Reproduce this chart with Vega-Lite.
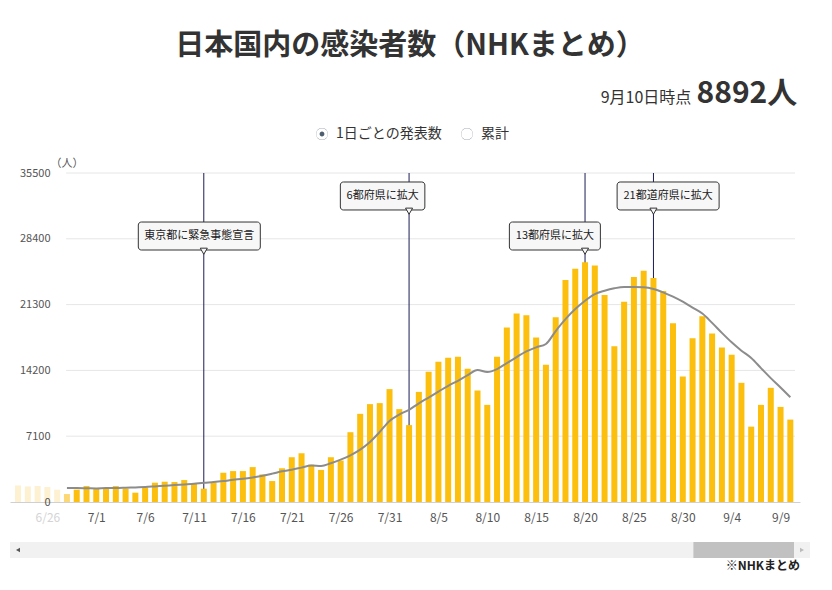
{
  "$schema": "https://vega.github.io/schema/vega-lite/v6.json",
  "background": "white",
  "padding": {"left": 10, "top": 32, "right": 12, "bottom": 0},
  "bounds": "flush",
  "spacing": 40,
  "title": {
    "text": "日本国内の感染者数（NHKまとめ）",
    "fontSize": 29,
    "fontWeight": "bold",
    "color": "#333333",
    "anchor": "middle",
    "offset": 18
  },
  "datasets": {
    "daily": [
      {"date": "2021-06-23", "cases": 1790, "avg": null},
      {"date": "2021-06-24", "cases": 1680, "avg": null},
      {"date": "2021-06-25", "cases": 1730, "avg": null},
      {"date": "2021-06-26", "cases": 1620, "avg": null},
      {"date": "2021-06-27", "cases": 1330, "avg": null},
      {"date": "2021-06-28", "cases": 860, "avg": 1506},
      {"date": "2021-06-29", "cases": 1330, "avg": 1506},
      {"date": "2021-06-30", "cases": 1720, "avg": 1490},
      {"date": "2021-07-01", "cases": 1470, "avg": 1470},
      {"date": "2021-07-02", "cases": 1470, "avg": 1506},
      {"date": "2021-07-03", "cases": 1720, "avg": 1506},
      {"date": "2021-07-04", "cases": 1434, "avg": 1540},
      {"date": "2021-07-05", "cases": 1004, "avg": 1578},
      {"date": "2021-07-06", "cases": 1578, "avg": 1614},
      {"date": "2021-07-07", "cases": 2080, "avg": 1685},
      {"date": "2021-07-08", "cases": 2187, "avg": 1757},
      {"date": "2021-07-09", "cases": 2152, "avg": 1829},
      {"date": "2021-07-10", "cases": 2367, "avg": 1900},
      {"date": "2021-07-11", "cases": 1972, "avg": 1972},
      {"date": "2021-07-12", "cases": 1434, "avg": 2080},
      {"date": "2021-07-13", "cases": 2116, "avg": 2152},
      {"date": "2021-07-14", "cases": 3156, "avg": 2260},
      {"date": "2021-07-15", "cases": 3335, "avg": 2400},
      {"date": "2021-07-16", "cases": 3335, "avg": 2510},
      {"date": "2021-07-17", "cases": 3765, "avg": 2654},
      {"date": "2021-07-18", "cases": 2976, "avg": 2833},
      {"date": "2021-07-19", "cases": 2260, "avg": 3060},
      {"date": "2021-07-20", "cases": 3640, "avg": 3310},
      {"date": "2021-07-21", "cases": 4830, "avg": 3490},
      {"date": "2021-07-22", "cases": 5260, "avg": 3710},
      {"date": "2021-07-23", "cases": 4036, "avg": 3930},
      {"date": "2021-07-24", "cases": 3460, "avg": 3890},
      {"date": "2021-07-25", "cases": 4830, "avg": 4180},
      {"date": "2021-07-26", "cases": 4470, "avg": 4570},
      {"date": "2021-07-27", "cases": 7530, "avg": 5040},
      {"date": "2021-07-28", "cases": 9515, "avg": 5650},
      {"date": "2021-07-29", "cases": 10560, "avg": 6480},
      {"date": "2021-07-30", "cases": 10670, "avg": 7560},
      {"date": "2021-07-31", "cases": 12180, "avg": 8750},
      {"date": "2021-08-01", "cases": 10020, "avg": 9440},
      {"date": "2021-08-02", "cases": 8300, "avg": 9950},
      {"date": "2021-08-03", "cases": 11880, "avg": 10650},
      {"date": "2021-08-04", "cases": 14050, "avg": 11270},
      {"date": "2021-08-05", "cases": 15140, "avg": 11920},
      {"date": "2021-08-06", "cases": 15570, "avg": 12540},
      {"date": "2021-08-07", "cases": 15680, "avg": 13080},
      {"date": "2021-08-08", "cases": 14380, "avg": 13690},
      {"date": "2021-08-09", "cases": 12030, "avg": 14240},
      {"date": "2021-08-10", "cases": 10480, "avg": 14020},
      {"date": "2021-08-11", "cases": 15680, "avg": 14340},
      {"date": "2021-08-12", "cases": 18820, "avg": 14990},
      {"date": "2021-08-13", "cases": 20340, "avg": 15640},
      {"date": "2021-08-14", "cases": 20160, "avg": 16260},
      {"date": "2021-08-15", "cases": 17740, "avg": 16690},
      {"date": "2021-08-16", "cases": 14810, "avg": 17050},
      {"date": "2021-08-17", "cases": 19930, "avg": 18450},
      {"date": "2021-08-18", "cases": 23960, "avg": 19730},
      {"date": "2021-08-19", "cases": 25160, "avg": 20820},
      {"date": "2021-08-20", "cases": 25880, "avg": 21720},
      {"date": "2021-08-21", "cases": 25520, "avg": 22440},
      {"date": "2021-08-22", "cases": 22340, "avg": 22800},
      {"date": "2021-08-23", "cases": 16800, "avg": 23060},
      {"date": "2021-08-24", "cases": 21610, "avg": 23200},
      {"date": "2021-08-25", "cases": 24290, "avg": 23200},
      {"date": "2021-08-26", "cases": 24940, "avg": 23170},
      {"date": "2021-08-27", "cases": 24180, "avg": 22990},
      {"date": "2021-08-28", "cases": 22770, "avg": 22620},
      {"date": "2021-08-29", "cases": 19300, "avg": 22150},
      {"date": "2021-08-30", "cases": 13540, "avg": 21610},
      {"date": "2021-08-31", "cases": 17670, "avg": 20980},
      {"date": "2021-09-01", "cases": 20050, "avg": 20340},
      {"date": "2021-09-02", "cases": 18170, "avg": 19330},
      {"date": "2021-09-03", "cases": 16660, "avg": 18250},
      {"date": "2021-09-04", "cases": 15900, "avg": 17230},
      {"date": "2021-09-05", "cases": 12860, "avg": 16330},
      {"date": "2021-09-06", "cases": 8130, "avg": 15540},
      {"date": "2021-09-07", "cases": 10480, "avg": 14450},
      {"date": "2021-09-08", "cases": 12320, "avg": 13370},
      {"date": "2021-09-09", "cases": 10260, "avg": 12360},
      {"date": "2021-09-10", "cases": 8892, "avg": 11310}
    ],
    "events": [
      {"date": "2021-07-12", "label": "東京都に緊急事態宣言", "label_at": "2021-07-11T13:00:00Z"},
      {"date": "2021-08-02", "label": "6都府県に拡大", "label_at": "2021-07-30T07:00:00Z"},
      {"date": "2021-08-20", "label": "13都府県に拡大", "label_at": "2021-08-16T22:00:00Z"},
      {"date": "2021-08-27", "label": "21都道府県に拡大", "label_at": "2021-08-28T12:00:00Z"}
    ],
    "ticks": [
      {"v": 0}, {"v": 7100}, {"v": 14200}, {"v": 21300}, {"v": 28400}, {"v": 35500}
    ],
    "scroll": [
      {"part": "全期間", "start": "2020-01-16", "end": "2021-09-10"},
      {"part": "表示期間", "start": "2021-06-23", "end": "2021-09-10"}
    ]
  },
  "vconcat": [
    {
      "width": 790,
      "height": 329,
      "layer": [
        {
          "data": {"name": "ticks"},
          "transform": [{"filter": "datum.v > 0"}],
          "mark": {"type": "rule", "color": "#e6e6e6", "strokeWidth": 1},
          "encoding": {
            "x": {
              "datum": {"year": 2021, "month": 6, "date": 27, "hours": 22, "utc": true},
              "type": "temporal"
            },
            "x2": {"datum": {"year": 2021, "month": 9, "date": 10, "hours": 11, "minutes": 30, "utc": true}},
            "y": {"field": "v", "type": "quantitative"}
          }
        },
        {
          "data": {"name": "events"},
          "mark": {"type": "rule", "color": "#1b1b57", "strokeWidth": 1},
          "encoding": {
            "x": {"field": "date", "type": "temporal"},
            "y": {"datum": 35500},
            "y2": {"datum": 0}
          }
        },
        {
          "data": {"name": "daily"},
          "mark": {"type": "bar", "width": 6, "clip": true},
          "encoding": {
            "x": {
              "field": "date",
              "type": "temporal",
              "scale": {
                "type": "utc",
                "nice": false,
                "domain": [
                  {"year": 2021, "month": 6, "date": 22, "hours": 16, "minutes": 30, "utc": true},
                  {"year": 2021, "month": 9, "date": 10, "hours": 11, "minutes": 30, "utc": true}
                ]
              },
              "axis": {
                "values": [
                  {"year": 2021, "month": 6, "date": 26, "utc": true},
                  {"year": 2021, "month": 7, "date": 1, "utc": true},
                  {"year": 2021, "month": 7, "date": 6, "utc": true},
                  {"year": 2021, "month": 7, "date": 11, "utc": true},
                  {"year": 2021, "month": 7, "date": 16, "utc": true},
                  {"year": 2021, "month": 7, "date": 21, "utc": true},
                  {"year": 2021, "month": 7, "date": 26, "utc": true},
                  {"year": 2021, "month": 7, "date": 31, "utc": true},
                  {"year": 2021, "month": 8, "date": 5, "utc": true},
                  {"year": 2021, "month": 8, "date": 10, "utc": true},
                  {"year": 2021, "month": 8, "date": 15, "utc": true},
                  {"year": 2021, "month": 8, "date": 20, "utc": true},
                  {"year": 2021, "month": 8, "date": 25, "utc": true},
                  {"year": 2021, "month": 8, "date": 30, "utc": true},
                  {"year": 2021, "month": 9, "date": 4, "utc": true},
                  {"year": 2021, "month": 9, "date": 9, "utc": true}
                ],
                "labelExpr": "utcFormat(datum.value, '%-m/%-d')",
                "labelColor": {
                  "condition": {"test": "utcmonth(datum.value) == 5", "value": "#d4d4d4"},
                  "value": "#555555"
                },
                "labelFontSize": 12,
                "labelPadding": 10,
                "labelOverlap": false,
                "labelFlush": false,
                "ticks": false,
                "grid": false,
                "domainColor": "#d0d0d0",
                "title": null
              }
            },
            "y": {
              "field": "cases",
              "type": "quantitative",
              "scale": {"domain": [0, 35500], "nice": false},
              "axis": {
                "values": [0, 7100, 14200, 21300, 28400, 35500],
                "format": "d",
                "offset": -42,
                "labelPadding": 2,
                "ticks": false,
                "domain": false,
                "grid": false,
                "labelColor": "#555555",
                "labelFontSize": 11,
                "title": "（人）",
                "titleAngle": 0,
                "titleAlign": "left",
                "titleBaseline": "middle",
                "titleX": -2,
                "titleY": -10,
                "titleFontSize": 11,
                "titleFontWeight": "normal",
                "titleColor": "#555555",
                "zindex": 1
              }
            },
            "color": {
              "condition": [
                {"test": "time(datum.date) < utc(2021, 5, 28)", "value": "#fdf1d2"},
                {"test": "time(datum.date) == utc(2021, 5, 28)", "value": "#fcd874"}
              ],
              "value": "#fcbf0d"
            }
          }
        },
        {
          "data": {"name": "daily"},
          "transform": [{"filter": "isValid(datum.avg)"}],
          "mark": {"type": "line", "color": "#8c8c8c", "strokeWidth": 2, "interpolate": "monotone", "clip": true},
          "encoding": {
            "x": {"field": "date", "type": "temporal"},
            "y": {"field": "avg", "type": "quantitative"}
          }
        },
        {
          "data": {"name": "events"},
          "transform": [
            {"window": [{"op": "row_number", "as": "n"}], "sort": [{"field": "date"}]},
            {"calculate": "datum.n % 2 == 1 ? 'lower' : 'upper'", "as": "tier"},
            {"calculate": "length(replace(datum.label, regexp('[0-9]', 'g'), ''))", "as": "full"},
            {"calculate": "datum.full * 11 + (length(datum.label) - datum.full) * 6.5 + 12", "as": "w"},
            {"calculate": "datum.tier == 'upper' ? 34530 : 30210", "as": "box_top"},
            {"calculate": "datum.tier == 'upper' ? 31510 : 27190", "as": "box_bottom"},
            {"calculate": "(datum.box_top + datum.box_bottom) / 2", "as": "box_mid"},
            {"calculate": "datum.box_bottom - 130", "as": "tip"}
          ],
          "layer": [
            {
              "mark": {"type": "bar", "fill": "#f7f7f7", "stroke": "#333333", "strokeWidth": 1, "cornerRadius": 3},
              "encoding": {
                "x": {"field": "label_at", "type": "temporal"},
                "y": {"field": "box_top", "type": "quantitative"},
                "y2": {"field": "box_bottom"},
                "size": {"field": "w", "type": "quantitative", "scale": null}
              }
            },
            {
              "mark": {"type": "point", "shape": "triangle-down", "filled": true, "fill": "#f7f7f7", "stroke": "#333333", "strokeWidth": 1, "size": 50, "opacity": 1},
              "encoding": {
                "x": {"field": "date", "type": "temporal"},
                "y": {"field": "tip", "type": "quantitative"}
              }
            },
            {
              "mark": {"type": "text", "fontSize": 11, "color": "#222222", "align": "center", "baseline": "middle"},
              "encoding": {
                "x": {"field": "label_at", "type": "temporal"},
                "y": {"field": "box_mid", "type": "quantitative"},
                "text": {"field": "label"}
              }
            }
          ]
        },
        {
          "data": {"name": "daily"},
          "transform": [
            {"joinaggregate": [{"op": "max", "field": "date", "as": "last"}]},
            {"filter": "time(datum.date) == time(datum.last)"},
            {"calculate": "utcFormat(datum.date, '%-m月%-d日時点')", "as": "asof"},
            {"calculate": "datum.cases + '人'", "as": "total"}
          ],
          "layer": [
            {
              "mark": {"type": "text", "fontSize": 16, "color": "#333333", "align": "right", "baseline": "middle", "dx": -99, "clip": false},
              "encoding": {
                "x": {"field": "date", "type": "temporal"},
                "y": {"datum": 43590},
                "text": {"field": "asof"}
              }
            },
            {
              "mark": {"type": "text", "fontSize": 30, "fontWeight": "bold", "color": "#333333", "align": "right", "baseline": "middle", "dx": 7, "clip": false},
              "encoding": {
                "x": {"field": "date", "type": "temporal"},
                "y": {"datum": 44020},
                "text": {"field": "total"}
              }
            }
          ]
        },
        {
          "data": {"values": [{"mode": "1日ごとの発表数"}, {"mode": "累計"}]},
          "mark": {"type": "point", "filled": true, "color": "#4d5e6f", "opacity": 0},
          "encoding": {
            "shape": {
              "field": "mode",
              "type": "nominal",
              "scale": {
                "domain": ["1日ごとの発表数", "累計"],
                "range": [
                  "M-1,0A1,1,0,1,1,1,0A1,1,0,1,1,-1,0Z M-0.97,0A0.97,0.97,0,1,0,0.97,0A0.97,0.97,0,1,0,-0.97,0Z M-0.4,0A0.4,0.4,0,1,1,0.4,0A0.4,0.4,0,1,1,-0.4,0Z",
                  "M-1,0A1,1,0,1,1,1,0A1,1,0,1,1,-1,0Z M-0.97,0A0.97,0.97,0,1,0,0.97,0A0.97,0.97,0,1,0,-0.97,0Z"
                ]
              },
              "legend": {
                "orient": "none",
                "legendX": 305,
                "legendY": -46,
                "direction": "horizontal",
                "title": null,
                "padding": 0,
                "symbolSize": 144,
                "symbolOpacity": 1,
                "symbolFillColor": "#4d5e6f",
                "symbolStrokeWidth": 1,
                "symbolStrokeColor": "#a8a8a8",
                "labelFontSize": 14,
                "labelColor": "#333333",
                "labelOffset": 7,
                "columnPadding": 17,
                "labelLimit": 300
              }
            }
          }
        }
      ]
    },
    {
      "width": 800,
      "height": 16,
      "title": {
        "text": "※NHKまとめ",
        "orient": "bottom",
        "anchor": "end",
        "fontSize": 12,
        "fontWeight": "bold",
        "color": "#222222",
        "offset": 3,
        "dx": -10
      },
      "data": {"name": "scroll"},
      "layer": [
        {
          "transform": [{"filter": "datum.part == '全期間'"}],
          "mark": {"type": "rect", "color": "#f1f1f1", "xOffset": -16, "x2Offset": 16},
          "encoding": {
            "x": {
              "field": "start",
              "type": "temporal",
              "scale": {
                "type": "utc",
                "nice": false,
                "domain": [
                  {"year": 2020, "month": 1, "date": 16, "utc": true},
                  {"year": 2021, "month": 9, "date": 10, "utc": true}
                ],
                "range": [16, 784]
              },
              "axis": null
            },
            "x2": {"field": "end"}
          }
        },
        {
          "transform": [{"filter": "datum.part == '表示期間'"}],
          "mark": {"type": "rect", "color": "#c1c1c1"},
          "encoding": {
            "x": {"field": "start", "type": "temporal"},
            "x2": {"field": "end"}
          }
        },
        {
          "transform": [{"filter": "datum.part == '全期間'"}],
          "mark": {"type": "point", "shape": "triangle-left", "filled": true, "color": "#555555", "size": 22, "xOffset": -8, "opacity": 1},
          "encoding": {
            "x": {"field": "start", "type": "temporal"}
          }
        },
        {
          "transform": [{"filter": "datum.part == '全期間'"}],
          "mark": {"type": "point", "shape": "triangle-right", "filled": true, "color": "#bbbbbb", "size": 22, "xOffset": 8, "opacity": 1},
          "encoding": {
            "x": {"field": "end", "type": "temporal"}
          }
        }
      ]
    }
  ],
  "config": {
    "font": "Noto Sans CJK JP",
    "view": {"stroke": null},
    "axis": {"labelFont": "Noto Sans CJK JP", "titleFont": "Noto Sans CJK JP"},
    "legend": {"labelFont": "Noto Sans CJK JP", "titleFont": "Noto Sans CJK JP"},
    "title": {"font": "Noto Sans CJK JP", "subtitleFont": "Noto Sans CJK JP"},
    "text": {"font": "Noto Sans CJK JP"}
  }
}
